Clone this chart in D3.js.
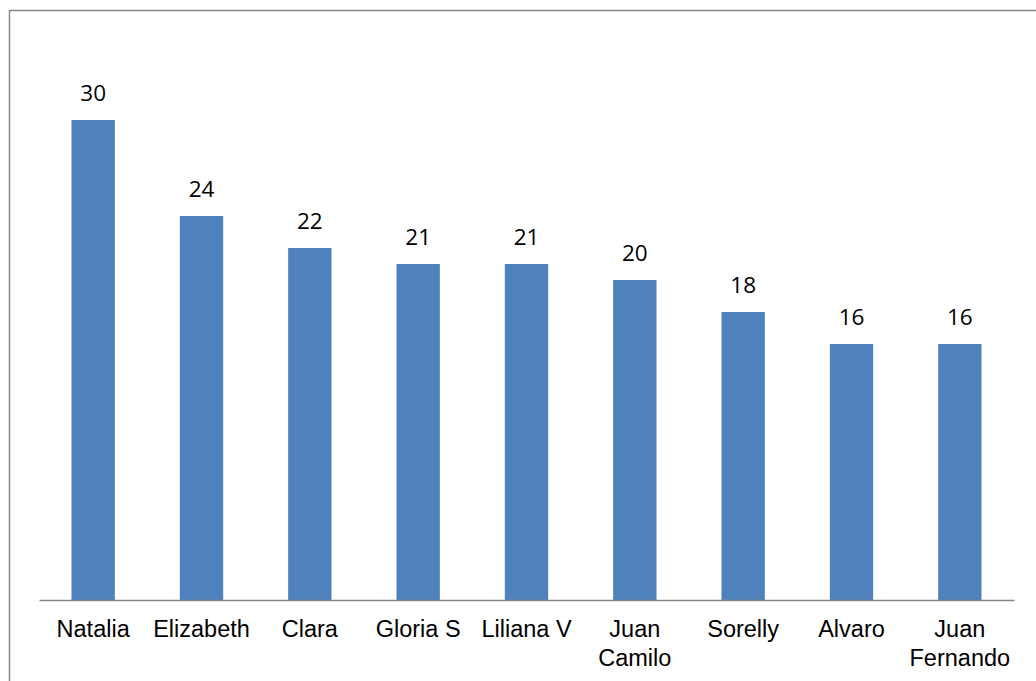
<!DOCTYPE html>
<html>
<head>
<meta charset="utf-8">
<script src="https://cdn.jsdelivr.net/npm/d3@7"></script>
<style>
  html, body { margin: 0; padding: 0; background: #fff; }
  svg { display: block; }
</style>
</head>
<body>
<svg id="chart" width="1036" height="681"></svg>
<script>
const categories = ["Natalia", "Elizabeth", "Clara", "Gloria S", "Liliana V", "Juan Camilo", "Sorelly", "Alvaro", "Juan Fernando"];
const values = [30, 24, 22, 21, 21, 20, 18, 16, 16];

const svg = d3.select("#chart");
const W = 1036, H = 681;
const baseY = 600;

// chart border
svg.append("rect")
  .attr("x", 9.5).attr("y", 10.5)
  .attr("width", W + 10).attr("height", H + 10)
  .attr("fill", "none")
  .attr("stroke", "#888888")
  .attr("stroke-width", 1.5);

const x = d3.scaleBand()
  .domain(categories)
  .range([39, 1014])
  .paddingInner(0.6)
  .paddingOuter(0.3);

const y = d3.scaleLinear()
  .domain([0, 30])
  .range([baseY, 120]);

const data = categories.map((c, i) => ({ c, v: values[i] }));

svg.selectAll("rect.bar")
  .data(data)
  .enter().append("rect")
  .attr("class", "bar")
  .attr("x", d => x(d.c))
  .attr("y", d => y(d.v))
  .attr("width", x.bandwidth())
  .attr("height", d => y(0) - y(d.v))
  .attr("fill", "#4F81BD");

// value labels
svg.selectAll("text.val")
  .data(data)
  .enter().append("text")
  .attr("class", "val")
  .attr("x", d => x(d.c) + x.bandwidth() / 2)
  .attr("y", d => y(d.v) - 19)
  .attr("text-anchor", "middle")
  .attr("font-family", "'Open Sans', 'Noto Sans', sans-serif")
  .attr("font-size", "22.5px")
  .attr("fill", "#000")
  .text(d => d.v);

// axis
const axis = d3.axisBottom(x).tickSize(0).tickSizeOuter(0).tickPadding(0);
const g = svg.append("g").attr("transform", `translate(0,${baseY})`).call(axis);
g.select(".domain").attr("stroke", "#868686").attr("stroke-width", 1.5);
g.selectAll(".tick text").remove();

// category labels (wrapped)
const wrapLines = c => {
  if (c === "Juan Camilo") return ["Juan", "Camilo"];
  if (c === "Juan Fernando") return ["Juan", "Fernando"];
  return [c];
};
const labels = svg.selectAll("text.cat")
  .data(categories)
  .enter().append("text")
  .attr("class", "cat")
  .attr("text-anchor", "middle")
  .attr("font-family", "'Liberation Sans', Arial, sans-serif")
  .attr("font-size", "23.5px")
  .attr("fill", "#000");
labels.each(function(c) {
  const t = d3.select(this);
  wrapLines(c).forEach((line, i) => {
    t.append("tspan")
      .attr("x", x(c) + x.bandwidth() / 2)
      .attr("y", 637 + i * 28.5)
      .text(line);
  });
});
</script>
</body>
</html>
